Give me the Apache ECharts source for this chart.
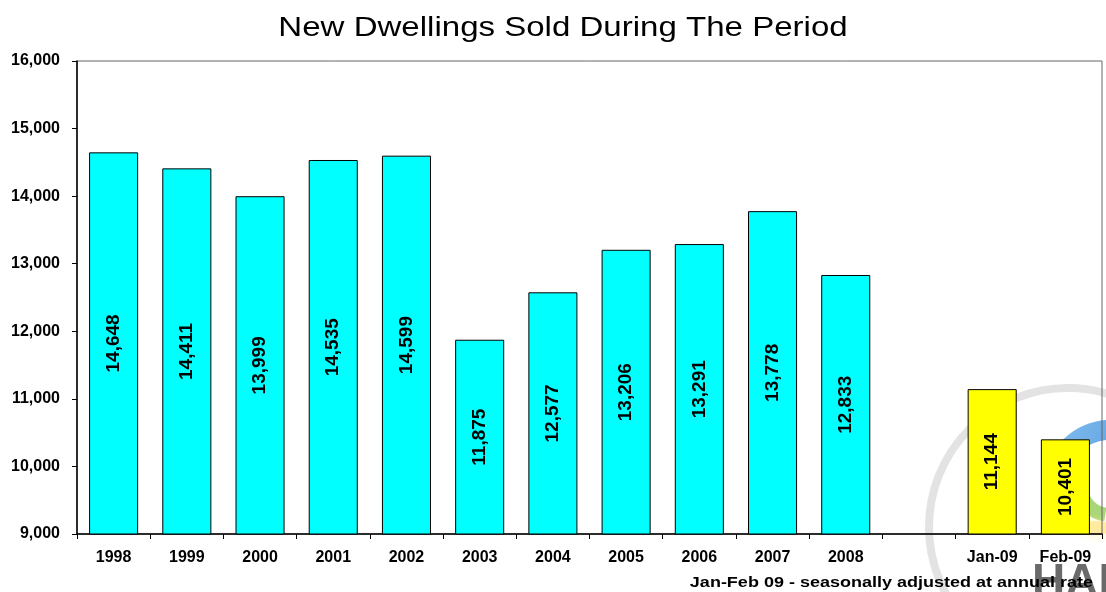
<!DOCTYPE html>
<html>
<head>
<meta charset="utf-8">
<title>New Dwellings Sold During The Period</title>
<script src="https://cdn.jsdelivr.net/npm/echarts@6/dist/echarts.min.js"></script>
<style>
  html, body { margin: 0; padding: 0; background: #ffffff; }
  #chart { width: 1106px; height: 592px; }
</style>
</head>
<body>
<div id="chart"></div>
<script>
// Period labels (blank slot separates the annual figures from the monthly ones)
var categories = ['1998', '1999', '2000', '2001', '2002', '2003', '2004', '2005', '2006', '2007', '2008', '', 'Jan-09', 'Feb-09'];
// Annual totals, 1998-2008
var annualSales = [14648, 14411, 13999, 14535, 14599, 11875, 12577, 13206, 13291, 13778, 12833, null, null, null];
// Monthly figures, seasonally adjusted at annual rate
var monthlySales = [null, null, null, null, null, null, null, null, null, null, null, null, 11144, 10401];
// Value axis ticks
var yTicks = [9000, 10000, 11000, 12000, 13000, 14000, 15000, 16000];

var FONT = '"Liberation Sans", Arial, Helvetica, sans-serif';

function withCommas(v) {
  return String(v).replace(/\B(?=(\d{3})+(?!\d))/g, ',');
}

var valueLabel = {
  show: true,
  position: 'inside',
  rotate: 90,
  color: '#000000',
  fontFamily: FONT,
  fontWeight: 'bold',
  fontSize: 19,
  formatter: function (p) { return withCommas(p.value); }
};

var chart = echarts.init(document.getElementById('chart'), null, { renderer: 'canvas' });

chart.setOption({
  backgroundColor: '#ffffff',
  animation: false,
  grid: {
    left: 77, right: 4, top: 61, bottom: 58,
    show: true,
    borderColor: '#666666',
    borderWidth: 1,
    backgroundColor: 'transparent'
  },
  xAxis: {
    type: 'category',
    data: categories,
    axisLine: { lineStyle: { color: '#000000', width: 1.5 } },
    axisTick: { show: true, length: 5, alignWithLabel: false, lineStyle: { color: '#000000' } },
    axisLabel: {
      color: '#000000', fontFamily: FONT, fontWeight: 'bold', fontSize: 16, margin: 16
    }
  },
  yAxis: {
    type: 'value',
    min: yTicks[0],
    max: yTicks[yTicks.length - 1],
    interval: 1000,
    axisLine: { show: true, lineStyle: { color: '#000000', width: 1.5 } },
    axisTick: { show: true, length: 5, lineStyle: { color: '#000000' } },
    splitLine: { show: false },
    axisLabel: {
      color: '#000000', fontFamily: FONT, fontWeight: 'bold', fontSize: 16, margin: 17,
      formatter: function (v) { return withCommas(v); }
    }
  },
  series: [
    {
      name: 'Annual',
      type: 'bar',
      stack: 'sales',
      data: annualSales,
      barCategoryGap: '33%',
      itemStyle: { color: '#00ffff', borderColor: '#000000', borderWidth: 1 },
      label: valueLabel,
      z: 3
    },
    {
      name: 'Monthly',
      type: 'bar',
      stack: 'sales',
      data: monthlySales,
      barCategoryGap: '33%',
      itemStyle: { color: '#ffff00', borderColor: '#000000', borderWidth: 1 },
      label: valueLabel,
      z: 3
    }
  ],
  graphic: [
    // chart title, drawn slightly wide
    {
      type: 'text', silent: true, z: 10,
      x: 563, y: 42, scaleX: 1.18, scaleY: 1,
      style: {
        x: 0, y: 0, text: 'New Dwellings Sold During The Period',
        font: '28px ' + FONT,
        fill: '#000000',
        textAlign: 'center', textVerticalAlign: 'bottom'
      }
    },
    // faint association logo sitting behind the monthly bars
    {
      type: 'circle', silent: true, z: -10,
      shape: { cx: 1068, cy: 527, r: 139 },
      style: { fill: 'none', stroke: '#e3e3e3', lineWidth: 8 }
    },
    {
      type: 'arc', silent: true, z: -9,
      shape: { cx: 1110, cy: 485, r: 55, startAngle: Math.PI * 1.12, endAngle: Math.PI * 1.75 },
      style: {
        fill: 'none', lineWidth: 20, opacity: 0.85,
        stroke: new echarts.graphic.LinearGradient(0, 0, 1, 1, [
          { offset: 0, color: '#6fb4ee' },
          { offset: 1, color: '#2f7fd0' }
        ])
      }
    },
    {
      type: 'arc', silent: true, z: -9,
      shape: { cx: 1110, cy: 485, r: 30, startAngle: Math.PI * 0.55, endAngle: Math.PI * 0.95 },
      style: { fill: 'none', stroke: '#93cc55', lineWidth: 14, opacity: 0.8 }
    },
    {
      type: 'ellipse', silent: true, z: -9,
      shape: { cx: 1096, cy: 528, rx: 16, ry: 7 },
      style: { fill: '#ffe68a', opacity: 0.7, shadowBlur: 10, shadowColor: '#fff2a8' }
    },
    {
      type: 'text', silent: true, z: -8,
      style: {
        x: 1032, y: 606, text: 'HAR',
        font: 'bold 46px ' + FONT,
        fill: '#6a6a6a',
        textAlign: 'left', textVerticalAlign: 'bottom'
      }
    },
    // footnote under the monthly bars
    {
      type: 'text', silent: true, z: 10,
      x: 1093, y: 583, scaleX: 1.2, scaleY: 1,
      style: {
        x: 0, y: 0, text: 'Jan-Feb 09 - seasonally adjusted at annual rate',
        font: 'bold 15px ' + FONT,
        fill: '#000000',
        textAlign: 'right', textVerticalAlign: 'middle'
      }
    }
  ]
});
</script>
</body>
</html>
